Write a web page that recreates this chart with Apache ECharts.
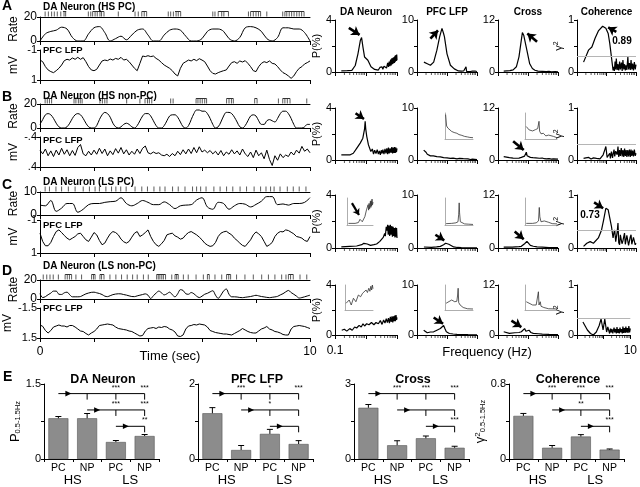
<!DOCTYPE html>
<html><head><meta charset="utf-8">
<script src="https://cdn.jsdelivr.net/npm/echarts@6/dist/echarts.min.js"></script>
<style>html,body{margin:0;padding:0;background:#fff}#c{width:640px;height:487px}</style>
</head><body><div id="c"></div>
<script>
const FONT = 'Liberation Sans, Arial, Helvetica, sans-serif';

// ---------- Panels A-D : time series ----------
const timeTicks = [0, 2, 4, 6, 8, 10];
const rateA = [0,6,8,9,11.5,10,3,0,0,6,11,12,7,0,2,4,1,5,9,10,5,0,0,5,9,10,9,4,0,0,2,8,10,10,8,2,0,3,11,12,11,8,2,0,3,11,11,10,10,7,0];
const rateB = [3,7,11,12,11,8,4,1,0,0, 1,4,8,11,12,11,8,4,1,0, 0,2,7,11,13,12,9,4,1,0, 1,3,4,3,1,0,2,6,10,12, 12,10,6,2,0,0,2,6,10,11, 11,9,5,1,0,2,7,12,15,15, 14,14,12,8,3,0,1,5,10,13, 13,12,9,5,1,0,2,6,10,11, 10,6,3,3,6,7,6,5,8,12, 14,14,12,8,3,0,0,0,1,3, 3];
const rateC = [4.3,4,6.3,1.6,3,5,5,1.2,2.5,4.5,5,5,5.5,5.8,6,7.5,5,4,5,6.3,5.5,4.5,4.5,5.7,4.5,2.8,4,4.3,4.5,6.5,7.5,3.5,2.5,5.5,5,2.5,4,5,4.7,3.5,4.6,6,8,8,4.5,4.8,4.3,5,5,5.5,7.5];
const rateD = [5.7,1.5,2.5,4.5,6.2,8.3,8.3,5,4.8,6.5, 7.2,4.5,2.3,2.3,2.3,2.6,4,5.4,6.3,7, 7.2,6.5,5.8,4.7,3,2.5,3.5,4.6,5.2,5.5, 5.4,4.7,4.1,3.3,2.6,2.5,3.3,4,4.7,5.4, 4,0.5,3.5,6.2,8.3,6.5,4.3,5.5,7.2,4.5, 2.3,5.5,9.8,9,5.5,5,6.8,5.5,3,1.5, 3,5,6,7.5,8.7,4,0.7,4,8.5,10.5, 5,2.3,2.3,2.1,1.6,1.4,1.8,2.2,2.6,3.3, 3.9,3.3,2.6,2.2,1.7,1.4,1.8,2.2,2.8,4.3, 5.6,7.5,9,6.8,5,3,1,1.5,2.3,3.2, 4];
const lfpA = [-0.33,-0.22,0.11,0.33,0.44,0.51,0.38,0.22,0,-0.29, -0.38,-0.33,-0.47,-0.38,-0.51,-0.38,-0.49,-0.22,0.11,0.33, 0.38,0.29,0,-0.27,-0.33,-0.29,-0.4,-0.33,-0.44,-0.38, -0.51,-0.33,-0.38,-0.22,0,0.22,0.38,-0.11,-0.6,-0.56, -0.62,-0.56,-0.6,-0.44,-0.33,-0.16,0,0.11,0.22,0.38, 0.6,0.73,0.22,-0.11,-0.22,-0.33,-0.27,-0.38,-0.29,-0.42, -0.33,-0.22,0.07,0.38,0.56,0.6,0.51,0.44,0.38,0.33, 0.07,-0.16,-0.22,-0.11,-0.27,-0.2,-0.29,-0.11,0.11,0.38, 0.44,0.11,-0.11,-0.22,-0.16,-0.27,-0.11,-0.07,0.11,0.33, 0.51,0.6,0.73,0.89,0.73,0.44,0.22,0.11,-0.07,-0.16, -0.27];
const lfpB = [-0.05,0.05,-0.08,0.1,-0.03,0.12,-0.05,0.08,-0.1,0.06, -0.06,0.1,-0.04,0.09,-0.12,-0.2,0.05,0.1,-0.02,0.08, -0.05,0.06,-0.1,0.04,-0.08,0.1,-0.03,0.07,-0.09,0.03, -0.12,0.05,-0.06,0.08,-0.02,0.06,-0.08,0.04,-0.1,-0.16, 0.02,0.05,0,0.04,0.02,0.08,0.1,0.06,0.12,0.04, 0.1,-0.02,0.07,-0.06,0.05,-0.08,0.04,-0.12,0.02,-0.14, 0,-0.05,0.02,-0.04,0.05,-0.02,0.08,-0.04,0.1,0, 0.06,-0.06,0.05,-0.03,0.08,-0.08,0.05,0.12,0,0.15, -0.05,0.1,0.02,0.18,-0.05,0.2,0.36,0.1,0.22,0.05, 0.15,0.08,0.12,0,0.08,-0.05,0.03,-0.15,-0.02,-0.08, 0.02];
const lfpC = [-0.2,0.3,0.56,0.56,0.36,0,-0.3,-0.4,-0.24,-0.06, 0.1,0.2,0.1,0,-0.16,-0.2,0,0.2,0.3,0.04, -0.24,-0.1,0.24,0.5,0.4,0.1,-0.16,-0.3,-0.24,-0.1, 0.16,0.32,0.4,0.3,0.04,-0.2,-0.3,0,-0.1,-0.24, -0.4,0,0.3,0.5,0.6,0.44,0.24,-0.1,-0.16,-0.2, -0.04,0.04,0.16,0.1,-0.1,-0.24,-0.3,-0.2,-0.1,0.04, 0.2,0.4,0.52,0.6,0.56,0.36,0,-0.2,-0.28,-0.32, -0.2,-0.1,0.1,0.24,0.4,0.54,0.6,0.4,0.2,-0.1, -0.28,-0.16,0,0.3,0.6,0.5,0.36,0,-0.2,-0.3, -0.28,-0.4,-0.36,-0.26,-0.16,0,0.04,0.1,0.24,0.3, 0];
const lfpD = [0.2,0.33,0.75,1.0,0.75,0.4,0.3,0.2,0.3,0.3, 0.4,0.25,0.25,0.4,0.6,0.8,0.85,1.05,1.2,1.0, 0.85,0.6,0.25,0.2,0.15,0.1,0.15,0.2,0.4,0.55, 0.6,0.65,0.7,0.8,0.85,1.0,1.15,1.3,1.25,0.8, 0.55,0.5,0.45,0.55,0.4,0.45,0.35,0.4,0.6,0.7, 0.9,1.3,1.35,1.2,0.6,0.3,0.25,0.15,0.2,0.1, 0.15,0.2,0.4,0.75,0.85,0.95,1.0,1.05,1.1,1.1, 1.15,1.2,1.05,0.9,0.75,0.55,0.7,0.85,0.95,1.0, 1.0,0.8,0.6,0.5,0.35,0.6,0.7,0.85,0.9,1.0, 1.15,1.2,1.2,0.6,0.35,0.3,0.25,0.3,0.35,0.45, 0.55];
const spikesA = [0.19,0.31,0.43,0.53,0.64,0.77,0.89,0.95, 1.79,1.88,1.95,2.04,2.12,2.22,2.28,2.37, 2.9, 3.52,3.64,3.77,3.86,3.95, 4.75,4.84,4.94,5.04,5.12,5.21, 6.4,6.48,6.6,6.73,6.81,6.98, 7.72,7.8,7.9,8.0,8.09,8.17,8.4, 8.99,9.07,9.14,9.23,9.32,9.41,9.51,9.6,9.69,9.78];
const spikesB = [0.19,0.27,0.35,0.43, 1.26,1.33,1.42,1.49,1.56, 2.22,2.31,2.4,2.48, 3.21, 3.7,3.89,3.98,4.05,4.14, 4.84,4.93, 5.78,5.85,5.93,6.01,6.1,6.17, 6.91,7.0,7.09,7.16, 7.95,8.04, 8.83,8.99,9.07,9.16,9.26, 9.88];
const spikesC = [0.19,0.35,0.59,0.8,1.05,1.3,1.6,1.83,2.04,2.2,2.44,2.65,2.81,2.99,3.19,3.52,3.77,3.98,4.22,4.44,4.63,4.91,5.12,5.37,5.65,5.8,5.95,6.15,6.44,6.67,6.91,7.14,7.41,7.65,7.93,8.17,8.37,8.54,8.67,8.89,9.16,9.38,9.6,9.85];
const spikesD = [0.12,0.25,0.37,0.49,0.68, 0.93,1.01,1.09,1.17, 1.33,1.54, 1.91,1.98,2.04, 2.22,2.28,2.37, 2.59,2.81,3.02,3.23,3.43,3.6,3.83,4.01, 4.32,4.38,4.44,4.51,4.57,4.65, 4.88, 5.0,5.06,5.12, 5.31,5.49,5.78,6.05, 6.2,6.27, 6.48,6.73, 6.91,6.99,7.06, 7.28,7.59,7.9,8.21,8.46,8.7,8.95, 9.11,9.2,9.28,9.38, 9.63,9.88];
const burstsA = [[0.85,0.97],[1.95,2.37],[3.77,3.95],[5.0,5.21],[6.6,6.98],[7.8,8.17],[9.07,9.78]];
const burstsB = [[0.19,0.43],[1.26,1.56],[2.22,2.48],[3.89,4.14],[5.78,6.17],[6.91,7.16],[7.95,8.04],[8.99,9.26]];
const burstsC = [];
const burstsD = [[0.93,1.17],[1.91,2.04],[2.22,2.37],[4.32,4.65],[5.0,5.12],[6.2,6.27],[6.91,7.06],[9.2,9.38]];

// ---------- Spectra ----------
const specTitles = ['DA Neuron', 'PFC LFP', 'Cross', 'Coherence'];
const specMax = [4, 10, 12, 1];
const minorFreqs = [0.2,0.3,0.4,0.5,0.6,0.7,0.8,0.9,2,3,4,5,6,7,8,9];
const r1DA = [[0.16,0.08],[0.25,0.1],[0.35,0.12],[0.45,0.5],[0.55,1.4],[0.66,2.45],[0.72,2.65],[0.8,1.9],[0.9,1.15],[1.15,0.9],[1.45,0.4],[1.9,0.2],[2.2,0.3],[2.5,0.15],[2.8,0.35],[3.0,0.2],[3.3,0.4],[3.5,0.2],[3.8,0.45],[4.0,0.3],[4.3,0.55],[4.6,0.3],[5.0,0.7],[5.3,0.4],[5.6,0.8],[5.9,0.45],[6.2,0.95],[6.5,0.5],[6.8,1.05],[7.1,0.6],[7.4,1.1],[7.7,0.65],[8.0,1.15],[8.3,0.7],[8.6,1.25],[8.9,0.8],[9.2,1.3],[9.5,0.85],[9.8,1.35],[10,0.9]];
const r1PFC = [[0.17,1.9],[0.22,1.6],[0.28,1.3],[0.36,1.9],[0.46,4.2],[0.57,6.8],[0.68,8.4],[0.76,7.5],[0.82,6.8],[1.0,3.5],[1.3,1.3],[1.75,0.6],[2.4,0.2],[3.0,0.15],[3.6,0.2],[4.0,0.1],[4.3,1.0],[4.5,0.1],[5,0.2],[6,0.1],[7,0.15],[8,0.1],[9,0.15],[10,0.1]];
const r1Cross = [[0.155,0.2],[0.25,0.3],[0.32,0.5],[0.41,1.2],[0.5,3.5],[0.6,7.4],[0.65,9.1],[0.72,8.5],[0.77,8.2],[0.92,5],[1.14,1.9],[1.4,0.8],[1.7,0.4],[2.15,0.2],[3,0.15],[4,0.1],[5,0.15],[6,0.05],[8,0.1],[10,0.05]];
const r1Coh = [[0.167,0.19],[0.245,0.42],[0.32,0.48],[0.41,0.65],[0.53,0.79],[0.74,0.88],[0.95,0.84],[1.14,0.74],[1.29,0.55],[1.43,0.58],[1.67,0.03],[1.75,0.1],[1.85,0.02],[1.95,0.2],[2.05,0.05],[2.15,0.26],[2.3,0.04],[2.45,0.15],[2.6,0.03],[2.78,0.2],[2.95,0.05],[3.2,0.18],[3.4,0.02],[3.6,0.23],[3.85,0.05],[4.1,0.15],[4.35,0.03],[4.6,0.13],[4.9,0.04],[5.3,0.29],[5.6,0.05],[6.0,0.17],[6.4,0.04],[6.8,0.23],[7.2,0.05],[7.7,0.16],[8.2,0.03],[8.8,0.19],[9.4,0.05],[10,0.14]];
const r2DA = [[0.16,0.39],[0.25,0.39],[0.31,0.4],[0.39,0.52],[0.5,0.9],[0.65,1.3],[0.79,1.68],[0.9,2.4],[0.94,2.97],[0.98,2.4],[1.06,1.8],[1.2,1.16],[1.3,1.3],[1.43,0.65],[1.6,0.85],[1.75,0.45],[1.9,0.75],[2.1,0.5],[2.3,0.8],[2.5,0.45],[2.7,0.7],[2.9,0.4],[3.1,0.75],[3.3,0.5],[3.5,0.8],[3.8,0.45],[4.1,0.85],[4.4,0.5],[4.7,0.9],[5.0,0.45],[5.3,0.95],[5.6,0.5],[6.0,0.9],[6.4,0.55],[6.8,1.0],[7.2,0.5],[7.6,0.95],[8.0,0.55],[8.4,1.0],[8.8,0.55],[9.2,0.95],[9.6,0.6],[10,0.9]];
const r2PFC = [[0.167,1.9],[0.2,1.5],[0.22,1.1],[0.28,0.8],[0.35,0.8],[0.46,0.65],[0.6,0.6],[0.77,0.45],[1.0,0.4],[1.29,0.3],[1.6,0.35],[2.15,0.2],[2.6,0.3],[3.0,0.15],[3.5,0.25],[4,0.1],[5,0.2],[6,0.1],[7,0.15],[8,0.1],[10,0.1]];
const r2Cross = [[0.155,0.78],[0.24,0.55],[0.32,0.45],[0.41,0.4],[0.5,0.45],[0.6,0.6],[0.77,0.9],[0.85,1.2],[0.88,1.8],[0.93,1.0],[1.0,0.8],[1.2,0.6],[1.46,0.55],[1.8,0.5],[2.4,0.4],[3,0.45],[3.5,0.3],[4.1,0.25],[5,0.3],[6,0.2],[7,0.25],[8,0.15],[10,0.2]];
const r2Coh = [[0.167,0.03],[0.2,0.04],[0.25,0.05],[0.3,0.02],[0.36,0.04],[0.41,0.06],[0.46,0.03],[0.53,0.06],[0.6,0.02],[0.68,0.06],[0.77,0.1],[0.88,0.2],[0.95,0.26],[1.05,0.05],[1.14,0.06],[1.29,0.13],[1.35,0.03],[1.47,0.16],[1.6,0.04],[1.67,0.11],[1.8,0.2],[1.9,0.07],[2.05,0.17],[2.15,0.17],[2.3,0.1],[2.45,0.26],[2.6,0.06],[2.78,0.19],[2.95,0.08],[3.16,0.23],[3.4,0.07],[3.6,0.19],[3.85,0.06],[4.1,0.22],[4.35,0.08],[4.64,0.19],[4.9,0.06],[5.27,0.19],[5.6,0.07],[6.0,0.2],[6.4,0.06],[6.8,0.2],[7.2,0.08],[7.7,0.18],[8.2,0.07],[8.8,0.2],[9.4,0.08],[10,0.13]];
const r3DA = [[0.16,0.08],[0.3,0.12],[0.5,0.15],[0.73,0.25],[0.85,0.35],[0.94,0.42],[1.1,0.3],[1.4,0.2],[1.8,0.25],[2.2,0.3],[2.5,0.38],[2.8,0.5],[3.2,0.63],[3.6,0.8],[4.0,1.1],[4.2,0.9],[4.5,1.6],[4.7,1.3],[5.0,1.75],[5.2,1.0],[5.5,1.7],[5.8,0.9],[6.1,1.75],[6.4,1.0],[6.8,1.65],[7.1,0.85],[7.5,1.6],[7.8,0.9],[8.2,1.5],[8.6,0.8],[9.0,1.55],[9.4,0.85],[9.7,1.5],[10,0.75]];
const r3PFC = [[0.17,0.19],[0.3,0.13],[0.45,0.2],[0.6,0.3],[0.77,0.6],[0.9,0.9],[1.0,1.06],[1.15,0.7],[1.3,0.4],[1.67,0.2],[2.2,0.1],[3,0.08],[5,0.05],[10,0.03]];
const r3Cross = [[0.155,0.2],[0.3,0.22],[0.5,0.3],[0.6,0.38],[0.77,0.97],[0.92,1.5],[1.05,1.1],[1.2,0.6],[1.5,0.4],[2.0,0.25],[3,0.2],[5,0.1],[10,0.08]];
const r3Coh = [[0.167,0.03],[0.215,0.09],[0.28,0.12],[0.36,0.09],[0.53,0.19],[0.68,0.34],[0.8,0.53],[0.95,0.75],[1.14,0.72],[1.29,0.69],[1.47,0.41],[1.67,0.19],[1.8,0.3],[1.9,0.34],[2.05,0.12],[2.15,0.09],[2.3,0.3],[2.45,0.47],[2.6,0.1],[2.78,0.06],[2.95,0.25],[3.16,0.22],[3.35,0.08],[3.59,0.13],[3.8,0.2],[4.08,0.28],[4.35,0.07],[4.64,0.09],[4.9,0.24],[5.27,0.22],[5.6,0.05],[6.0,0.06],[6.4,0.21],[6.8,0.25],[7.2,0.07],[7.7,0.06],[8.2,0.2],[8.8,0.22],[9.4,0.06],[10,0.09]];
const r4DA = [[0.165,0.38],[0.2,0.46],[0.24,0.31],[0.3,0.51],[0.36,0.38],[0.43,0.64],[0.5,0.56],[0.6,0.77],[0.7,0.64],[0.8,0.9],[0.9,0.72],[1.05,0.9],[1.25,0.82],[1.5,1.0],[1.8,0.82],[2.1,1.0],[2.5,0.9],[2.9,1.15],[3.3,0.85],[3.7,1.2],[4.1,0.95],[4.5,1.3],[4.9,1.0],[5.3,1.35],[5.7,0.95],[6.1,1.45],[6.5,1.05],[6.9,1.5],[7.3,1.0],[7.7,1.5],[8.1,1.1],[8.5,1.55],[8.9,1.1],[9.3,1.6],[9.7,1.2],[10,1.4]];
const r4PFC = [[0.167,0.96],[0.22,0.45],[0.28,0.6],[0.36,0.64],[0.46,0.96],[0.6,1.3],[0.68,1.5],[0.77,1.9],[0.85,1.3],[0.95,0.64],[1.2,0.3],[1.6,0.2],[2.15,0.13],[3,0.1],[5,0.06],[10,0.05]];
const r4Cross = [[0.155,0.77],[0.24,0.38],[0.36,0.54],[0.5,0.6],[0.6,0.77],[0.77,1.54],[0.85,0.9],[0.95,0.95],[1.08,1.15],[1.25,0.6],[1.5,0.38],[2.2,0.3],[3,0.2],[5,0.15],[10,0.1]];
const r4Coh = [[0.167,0.26],[0.245,0.1],[0.32,0.03],[0.41,0.0],[0.53,0.06],[0.68,0.19],[0.8,0.32],[0.95,0.1],[1.1,0.32],[1.29,0.06],[1.43,0.16],[1.67,0.03],[1.8,0.13],[1.9,0.05],[2.05,0.12],[2.2,0.03],[2.45,0.15],[2.6,0.05],[2.78,0.12],[3,0.03],[3.16,0.16],[3.4,0.04],[3.6,0.12],[3.85,0.03],[4.1,0.15],[4.4,0.05],[4.64,0.12],[5.0,0.03],[5.27,0.17],[5.6,0.04],[6.0,0.14],[6.4,0.04],[6.8,0.17],[7.2,0.05],[7.7,0.14],[8.2,0.04],[8.8,0.18],[9.4,0.05],[10,0.13]];
const cohThreshold = [0.3, 0.31, 0.34, 0.34];
// inset spectra (normalised)
const in2PFC = [[0.11,0.94],[0.13,0.5],[0.16,0.42],[0.2,0.35],[0.3,0.29],[0.45,0.25],[0.7,0.22],[1.0,0.17],[1.3,0.2],[1.6,0.14],[2.5,0.1],[4,0.08],[6,0.06],[10,0.05]];
const in2Cross = [[0.12,0.48],[0.18,0.35],[0.3,0.31],[0.45,0.36],[0.62,0.4],[0.75,0.68],[0.82,0.3],[1.0,0.2],[1.4,0.22],[2,0.12],[3,0.15],[4,0.08],[6,0.1],[10,0.05]];
const in3DA = [[0.13,0.06],[0.42,0.06],[0.75,0.09],[1.0,0.21],[1.5,0.12],[2.37,0.31],[3.16,0.56],[4.2,0.75],[4.6,0.55],[5.0,0.8],[5.5,0.6],[6.3,0.88],[6.8,0.65],[7.2,0.9],[7.8,0.7],[8.4,0.96],[9.2,0.75],[10,0.85]];
const in3PFC = [[0.12,0.05],[0.3,0.06],[0.6,0.08],[0.85,0.12],[0.95,0.4],[1.03,0.82],[1.1,0.45],[1.25,0.12],[1.6,0.06],[2.5,0.04],[5,0.03],[10,0.02]];
const in3Cross = [[0.12,0.06],[0.3,0.06],[0.5,0.08],[0.7,0.15],[0.78,0.65],[0.85,0.3],[1.0,0.12],[1.3,0.1],[1.6,0.15],[2,0.08],[3,0.1],[5,0.05],[10,0.04]];
const in4DA = [[0.12,0.27],[0.2,0.4],[0.28,0.2],[0.4,0.47],[0.6,0.33],[0.9,0.6],[1.3,0.53],[1.8,0.67],[2.5,0.6],[3.2,0.8],[4,0.7],[5,0.87],[6,0.75],[7,0.95],[8,0.8],[9,1.0],[10,0.85]];
const in4PFC = [[0.12,0.27],[0.3,0.4],[0.5,0.33],[0.7,0.35],[0.8,0.6],[0.87,0.87],[0.95,0.3],[1.2,0.2],[2,0.1],[4,0.05],[10,0.04]];
const in4Cross = [[0.12,0.33],[0.3,0.2],[0.5,0.2],[0.62,0.25],[0.69,0.73],[0.75,0.2],[0.9,0.33],[1.0,0.15],[1.5,0.1],[3,0.05],[10,0.04]];

// ---------- Panel E : bars ----------
const groups = ['PC', 'NP', 'PC', 'NP'];
const states = ['HS', 'LS'];
const barTitles = ['DA Neuron', 'PFC LFP', 'Cross', 'Coherence'];
const barMax = [1.5, 2, 3, 0.8];
const meanDA = [0.815, 0.815, 0.34, 0.46],  semDA = [0.035, 0.095, 0.03, 0.03];
const meanPFC = [1.22, 0.24, 0.67, 0.40],   semPFC = [0.15, 0.12, 0.12, 0.09];
const meanCross = [2.05, 0.55, 0.83, 0.45], semCross = [0.13, 0.18, 0.09, 0.06];
const meanCoh = [0.46, 0.12, 0.24, 0.10],   semCoh = [0.026, 0.024, 0.02, 0.007];
const starsDA = [['', '***', '***'], ['***', '***'], ['**']];
const starsPFC = [['***', '*', '***'], ['*', ''], ['']];
const starsCross = [['***', '***', '***'], ['', ''], ['***']];
const starsCoh = [['***', '***', '***'], ['**', ''], ['***']];

// ================= build =================
const option = {animation:false, backgroundColor:'#fff', grid:[], xAxis:[], yAxis:[], series:[], graphic:[]};
const BL = {show:true, onZero:false, lineStyle:{color:'#000', width:1}};
function addGrid(r){ option.grid.push({left:r.left, top:r.top, width:r.width, height:r.height}); return option.grid.length-1; }
function addX(o){ option.xAxis.push(Object.assign({splitLine:{show:false}, axisLine:BL, axisTick:{show:true,length:3,lineStyle:{color:'#000'}}, axisLabel:{show:false}}, o)); return option.xAxis.length-1; }
function addY(o){ option.yAxis.push(Object.assign({splitLine:{show:false}, axisLine:BL, axisTick:{show:true,length:3,lineStyle:{color:'#000'}}, axisLabel:{show:false}}, o)); return option.yAxis.length-1; }
function txt(t, x, y, size, bold, align, extra){ option.graphic.push(Object.assign({type:'text', x:x, y:y, silent:true, z:100, style:{text:t, fill:'#000', font:(bold?'bold ':'')+size+'px '+FONT, align:align||'left', verticalAlign:'middle', textAlign:align||'left', textVerticalAlign:'middle'}}, extra||{})); }
const lab = (s)=>({show:true, color:'#000', fontSize:s||11, fontFamily:FONT, margin:3});

// ---- A-D ----
const leftPanels = [
 {title:'DA Neuron (HS PC)', rate:rateA, step:0.2, rmax:20, spikes:spikesA, bursts:burstsA, lfp:lfpA, lmax:1, llab:['-1','1']},
 {title:'DA Neuron (HS non-PC)', rate:rateB, step:0.1, rmax:20, spikes:spikesB, bursts:burstsB, lfp:lfpB, lmax:0.4, llab:['-.4','.4']},
 {title:'DA Neuron (LS PC)', rate:rateC, step:0.2, rmax:10, spikes:spikesC, bursts:burstsC, lfp:lfpC, lmax:1, llab:['-1','1']},
 {title:'DA Neuron (LS non-PC)', rate:rateD, step:0.1, rmax:20, spikes:spikesD, bursts:burstsD, lfp:lfpD, lmax:1.5, llab:['-1.5','1.5']}
];
const leftLayout = [
 {rt:17, rh:24, lt:50, lh:30, ty:7, ly:50, letter:'A', lety:6},
 {rt:104, rh:24, lt:137, lh:30, ty:96, ly:140, letter:'B', lety:97},
 {rt:192, rh:23, lt:220, lh:33, ty:182, ly:225, letter:'C', lety:185},
 {rt:280, rh:19, lt:308, lh:30, ty:266, ly:308, letter:'D', lety:271}
];
leftPanels.forEach((P, k) => {
  const L = leftLayout[k];
  const gR = addGrid({left:40, width:270, top:L.rt, height:L.rh});
  const xR = addX({gridIndex:gR, type:'value', min:0, max:10, interval:2, axisTick:{show:true,length:4,lineStyle:{color:'#000'}}});
  addX({gridIndex:gR, type:'value', min:0, max:10, position:'top', axisTick:{show:false}});
  const yR = addY({gridIndex:gR, type:'value', min:0, max:P.rmax, interval:P.rmax, axisLabel:Object.assign(lab(12),{margin:3}),
    name:'Rate', nameLocation:'middle', nameGap:20, nameTextStyle:{fontSize:12, fontFamily:FONT, color:'#000'}});
  option.series.push({type:'line', xAxisIndex:xR, yAxisIndex:yR, data:P.rate.map((v,i)=>[+(i*P.step).toFixed(2), v]), smooth:0.35, symbol:'none', lineStyle:{color:'#000', width:1}});
  option.series.push({type:'scatter', xAxisIndex:xR, yAxisIndex:yR, data:P.spikes.map(t=>[t, P.rmax]), symbol:'rect', symbolSize:[1,5], symbolOffset:[0,-3], itemStyle:{color:'#333'}, clip:false, silent:true, z:5});
  option.series.push({type:'custom', xAxisIndex:xR, yAxisIndex:yR, data:P.bursts, clip:false, silent:true, z:5,
    renderItem:(p, api)=>{ const a=api.coord([api.value(0), P.rmax]), b=api.coord([api.value(1), P.rmax]);
      return {type:'line', shape:{x1:a[0], y1:a[1]-5.5, x2:b[0], y2:b[1]-5.5}, style:{stroke:'#333', lineWidth:1}}; }});
  const gL = addGrid({left:40, width:270, top:L.lt, height:L.lh});
  const last = k===3;
  const xL = addX({gridIndex:gL, type:'value', min:0, max:10, interval:2, axisTick:{show:true,length:4,lineStyle:{color:'#000'}},
    axisLabel: last ? Object.assign(lab(12),{margin:8, formatter:v=>(v===0||v===10)?String(v):''}) : {show:false}});
  const yL = addY({gridIndex:gL, type:'value', inverse:true, min:-P.lmax, max:P.lmax, interval:2*P.lmax,
    axisLabel:Object.assign(lab(11),{formatter:v=> v<0?P.llab[0]:(v>0?P.llab[1]:'')}),
    name:'mV', nameLocation:'middle', nameGap:20, nameTextStyle:{fontSize:12, fontFamily:FONT, color:'#000'}});
  option.series.push({type:'line', xAxisIndex:xL, yAxisIndex:yL, data:P.lfp.map((v,i)=>[+(i*0.1).toFixed(2), v]), symbol:'none', lineStyle:{color:'#000', width:1}});
  txt(P.title, 43, L.ty, 10, true);
  txt('PFC LFP', 43, L.ly, 9.5, true);
  txt(L.letter, 2, L.lety, 14, true);
});
txt('Time (sec)', 170, 356, 13, false, 'center');

// ---- spectra ----
const spec = [[r1DA, r1PFC, r1Cross, r1Coh],[r2DA, r2PFC, r2Cross, r2Coh],[r3DA, r3PFC, r3Cross, r3Coh],[r4DA, r4PFC, r4Cross, r4Coh]];
const specCols = [{left:335,width:62},{left:417,width:60},{left:498,width:60},{left:577,width:59}];
const specRows = [{top:20,height:52},{top:108,height:52},{top:195,height:53},{top:285,height:50}];
const specArrows = {
 '0-0':[[0.28,3.4],[0.62,2.85]], '0-1':[[0.28,6.4],[0.5,8.0]], '0-2':[[2.0,7.0],[0.95,8.9]], '0-3':[[2.15,0.77],[1.14,0.86]],
 '1-0':[[0.46,3.6],[0.86,3.15]], '1-2':[[0.32,4.3],[0.72,2.3]],
 '2-1':[[0.41,2.5],[0.81,1.45]], '2-2':[[0.36,3.75],[0.72,2.0]], '2-3':[[0.38,0.86],[0.77,0.75]],
 '3-1':[[0.36,3.5],[0.74,2.25]], '3-2':[[0.28,3.45],[0.6,1.9]]
};
const insets = [
 {r:1, c:1, data:in2PFC, rect:{left:445, top:113, width:28, height:26}},
 {r:1, c:2, data:in2Cross, rect:{left:525, top:113, width:32, height:26}},
 {r:2, c:0, data:in3DA, rect:{left:347, top:198, width:26, height:27}, arrow:[[0.24,0.81],[0.84,0.37]]},
 {r:2, c:1, data:in3PFC, rect:{left:445, top:198, width:28, height:27}},
 {r:2, c:2, data:in3Cross, rect:{left:525, top:198, width:32, height:27}},
 {r:3, c:0, data:in4DA, rect:{left:345, top:285, width:28, height:25}},
 {r:3, c:1, data:in4PFC, rect:{left:445, top:285, width:28, height:25}},
 {r:3, c:2, data:in4Cross, rect:{left:525, top:285, width:32, height:25}}
];
const arrowML = (pair)=>({silent:true, symbol:['none','arrow'], symbolSize:8, label:{show:false}, lineStyle:{color:'#000', width:2.6, type:'solid'}, emphasis:{disabled:true},
  data:[[{coord:pair[0]},{coord:pair[1]}]]});
spec.forEach((row, r) => row.forEach((data, c) => {
  const g = addGrid(Object.assign({}, specCols[c], specRows[r]));
  const M = specMax[c];
  let fmtX = ()=>'';
  if (r===3 && c===0) fmtX = v => Math.abs(v-0.1)<1e-6 ? '0.1' : '';
  if (r===3 && c===3) fmtX = v => Math.abs(v-10)<1e-6 ? '10' : '';
  const xi = addX({gridIndex:g, type:'log', logBase:10, min:0.1, max:10, axisTick:{show:true,length:4,lineStyle:{color:'#000'}},
    axisLabel: r===3 ? Object.assign(lab(12),{margin:10, formatter:fmtX, showMinLabel:true, showMaxLabel:true}) : {show:false}});
  const yOpt = {gridIndex:g, type:'value', min:0, max:M, interval:M/2,
    axisLabel:Object.assign(lab(11),{formatter:v=> (v===0||v===M)?String(v):''})};
  if (c===0) Object.assign(yOpt, {name:'P(%)', nameLocation:'middle', nameGap:8, nameTextStyle:{fontSize:11, fontFamily:FONT, color:'#000'}});
  if (c===3) Object.assign(yOpt, {name:'{g|γ}{s|2}', nameLocation:'middle', nameGap:4, nameTextStyle:{color:'#000', rich:{g:{fontSize:11, fontFamily:FONT}, s:{fontSize:7, fontFamily:FONT, verticalAlign:'top'}}}});
  const yi = addY(yOpt);
  const s = {type:'line', xAxisIndex:xi, yAxisIndex:yi, data:data, symbol:'none', lineStyle:{color:'#000', width:1.2}};
  const key = r+'-'+c;
  if (specArrows[key]) s.markLine = arrowML(specArrows[key]);
  option.series.push(s);
  const ticks = {type:'scatter', xAxisIndex:xi, yAxisIndex:yi, data:minorFreqs.map(f=>[f,0]), symbol:'rect', symbolSize:[0.8,3], symbolOffset:[0,1.5], itemStyle:{color:'#000'}, clip:false, silent:true};
  if (c===3) ticks.markLine = {silent:true, symbol:'none', label:{show:false}, lineStyle:{color:'#b5b5b5', width:1.2, type:'solid'}, data:[{yAxis:cohThreshold[r]}]};
  option.series.push(ticks);
  if (r===0) txt(specTitles[c], specCols[c].left + specCols[c].width/2, 12.5, 10, true, 'center');
}));
insets.forEach(I => {
  const g = addGrid(I.rect);
  const gl = {show:true, onZero:false, lineStyle:{color:'#999', width:0.8}};
  const xi = addX({gridIndex:g, type:'log', logBase:10, min:0.1, max:10, axisLine:gl, axisTick:{show:false}});
  const yi = addY({gridIndex:g, type:'value', min:0, max:1, axisLine:gl, axisTick:{show:false}});
  const s = {type:'line', xAxisIndex:xi, yAxisIndex:yi, data:I.data, symbol:'none', lineStyle:{color:'#333', width:0.8}};
  if (I.arrow) { s.markLine = arrowML(I.arrow); s.markLine.lineStyle.width = 2.2; s.markLine.symbolSize = 6; }
  option.series.push(s);
});
txt('0.89', 622, 41, 10, true, 'center');
txt('0.73', 590, 215, 10, true, 'center');
txt('Frequency (Hz)', 487, 352, 13, false, 'center');

// ---- E bars ----
const barMeans = [meanDA, meanPFC, meanCross, meanCoh];
const barSems = [semDA, semPFC, semCross, semCoh];
const barStars = [starsDA, starsPFC, starsCross, starsCoh];
const barLefts = [44, 198, 354, 509];
const bracketLevels = [0.872, 0.654, 0.436];
barMeans.forEach((means, k) => {
  const M = barMax[k];
  const g = addGrid({left:barLefts[k], top:384, width:115, height:78});
  const xi = addX({gridIndex:g, type:'category', data:groups, axisTick:{show:true, length:3, lineStyle:{color:'#000'}}, axisLabel:Object.assign(lab(10.5),{margin:4})});
  addX({gridIndex:g, type:'category', data:states, position:'bottom', axisLine:{show:false}, axisTick:{show:false}, axisLabel:Object.assign(lab(13),{margin:15})});
  const yOpt = {gridIndex:g, type:'value', min:0, max:M, interval:M/2, axisLabel:Object.assign(lab(11),{formatter:v=>(v===0||v===M)?String(v):''})};
  if (k===0) Object.assign(yOpt, {name:'{p|P}{s|0.5-1.5Hz}', nameLocation:'middle', nameGap:13, nameTextStyle:{color:'#000', rich:{p:{fontSize:13, fontFamily:FONT}, s:{fontSize:7.5, fontFamily:FONT, verticalAlign:'bottom'}}}});
  if (k===3) Object.assign(yOpt, {name:'{p|γ}{t|2}{s|0.5-1.5Hz}', nameLocation:'middle', nameGap:5, nameTextStyle:{color:'#000', rich:{p:{fontSize:13, fontFamily:FONT}, t:{fontSize:8, fontFamily:FONT, verticalAlign:'top'}, s:{fontSize:7.5, fontFamily:FONT, verticalAlign:'bottom'}}}});
  const yi = addY(yOpt);
  option.series.push({type:'bar', xAxisIndex:xi, yAxisIndex:yi, data:means, barWidth:20, itemStyle:{color:'#8c8c8c', borderColor:'#555', borderWidth:0.6}, silent:true});
  const sems = barSems[k];
  option.series.push({type:'custom', xAxisIndex:xi, yAxisIndex:yi, z:4, silent:true, data:means.map((m,i)=>[i, m, m+sems[i]]),
    renderItem:(p, api)=>{ const a=api.coord([api.value(0), api.value(1)]), b=api.coord([api.value(0), api.value(2)]);
      return {type:'group', children:[
        {type:'line', shape:{x1:a[0], y1:a[1], x2:b[0], y2:b[1]}, style:{stroke:'#000', lineWidth:1}},
        {type:'line', shape:{x1:b[0]-3, y1:b[1], x2:b[0]+3, y2:b[1]}, style:{stroke:'#000', lineWidth:1}}]}; }});
  const stars = barStars[k];
  option.series.push({type:'custom', xAxisIndex:xi, yAxisIndex:yi, z:4, silent:true, clip:false, data:stars.map((s,i)=>[i]),
    renderItem:(p, api)=>{
      const li = api.value(0), y = bracketLevels[li]*M;
      const a = api.coord([li, y]), b = api.coord([3, y]);
      const ch = [{type:'line', shape:{x1:a[0], y1:a[1], x2:b[0], y2:b[1]}, style:{stroke:'#000', lineWidth:1}},
        {type:'polygon', shape:{points:[[a[0]+7, a[1]-2.8],[a[0]+13, a[1]],[a[0]+7, a[1]+2.8]]}, style:{fill:'#000'}}];
      for (let c = li+1; c <= 3; c++) {
        const t = api.coord([c, y]);
        ch.push({type:'line', shape:{x1:t[0], y1:t[1], x2:t[0], y2:t[1]+6}, style:{stroke:'#000', lineWidth:1}});
        const st = stars[li][c-li-1];
        if (st) ch.push({type:'text', x:t[0], y:t[1]-2.5, style:{text:st, fill:'#000', font:'7px '+FONT, align:'center', verticalAlign:'bottom', textAlign:'center', textVerticalAlign:'bottom'}});
      }
      return {type:'group', children:ch}; }});
});
const barTitleX = [103, 257, 413, 568];
barTitles.forEach((t,k)=>txt(t, barTitleX[k], 380, 12.5, true, 'center'));
txt('E', 3, 377, 14, true);

const chart = echarts.init(document.getElementById('c'), null, {renderer:'canvas', width:640, height:487});
chart.setOption(option);
</script></body></html>
